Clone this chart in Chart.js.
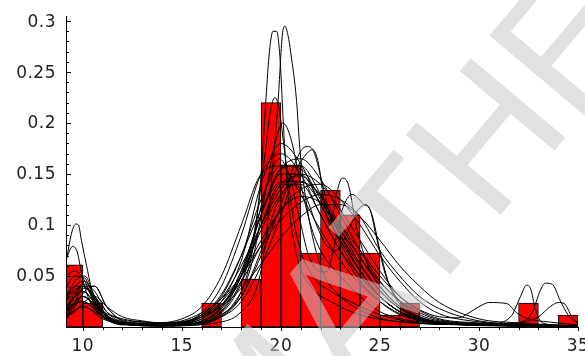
<!DOCTYPE html>
<html>
<head>
<meta charset="utf-8">
<script src="https://cdn.jsdelivr.net/npm/chart.js@4.4.1/dist/chart.umd.min.js"></script>
<style>
  html, body { margin: 0; padding: 0; background: #fff; overflow: hidden; }
  #wrap { width: 585px; height: 356px; }
</style>
</head>
<body>
<div id="wrap"><canvas id="dens" width="585" height="356"></canvas></div>
<script>
// histogram: left edge of each unit bin and its density
const binLefts = [9, 10, 11, 12, 13, 14, 15, 16, 17, 18, 19, 20, 21, 22, 23, 24, 25, 26, 27, 28, 29, 30, 31, 32, 33, 34];
const binDensity = [0.061, 0.0235, 0, 0, 0, 0, 0, 0.0235, 0, 0.047, 0.22, 0.159, 0.0725, 0.134, 0.11, 0.0725, 0.0118, 0.0235, 0, 0, 0, 0, 0, 0.0235, 0, 0.0118];

// axis ticks
const xLabels = [10, 15, 20, 25, 30, 35];
const yLabels = [0.05, 0.1, 0.15, 0.2, 0.25, 0.3];

// smooth density curves sampled on a common grid
const gridX = [9.15, 9.6, 10.1, 10.6, 11.2, 12, 13, 14, 15, 16, 17, 18, 19, 20, 21, 22, 23, 24, 25, 26, 27, 28, 30, 32, 35];
const dens1 = [0.03, 0.045, 0.05, 0.03, 0.01, 0.003, 0.002, 0.002, 0.003, 0.01, 0.03, 0.07, 0.125, 0.158, 0.155, 0.125, 0.09, 0.06, 0.035, 0.018, 0.009, 0.005, 0.003, 0.002, 0.001];
const dens2 = [0.015, 0.03, 0.042, 0.035, 0.015, 0.005, 0.003, 0.002, 0.004, 0.012, 0.028, 0.06, 0.1, 0.135, 0.15, 0.14, 0.115, 0.085, 0.055, 0.03, 0.016, 0.008, 0.004, 0.002, 0.001];
const dens3 = [0.04, 0.05, 0.048, 0.025, 0.008, 0.003, 0.002, 0.002, 0.004, 0.014, 0.04, 0.09, 0.15, 0.17, 0.15, 0.11, 0.075, 0.05, 0.03, 0.015, 0.008, 0.004, 0.002, 0.002, 0.001];
const dens4 = [0.01, 0.02, 0.035, 0.04, 0.02, 0.006, 0.004, 0.003, 0.004, 0.01, 0.022, 0.045, 0.08, 0.115, 0.135, 0.14, 0.125, 0.1, 0.07, 0.045, 0.025, 0.013, 0.005, 0.002, 0.001];
const dens5 = [0.025, 0.04, 0.045, 0.03, 0.012, 0.004, 0.002, 0.002, 0.003, 0.008, 0.025, 0.065, 0.14, 0.18, 0.16, 0.12, 0.085, 0.055, 0.03, 0.015, 0.007, 0.004, 0.002, 0.001, 0.001];
const dens6 = [0.05, 0.055, 0.045, 0.022, 0.008, 0.003, 0.003, 0.004, 0.008, 0.02, 0.05, 0.1, 0.15, 0.158, 0.13, 0.095, 0.065, 0.042, 0.025, 0.013, 0.007, 0.004, 0.002, 0.001, 0.001];
const dens7 = [0.02, 0.03, 0.038, 0.03, 0.015, 0.007, 0.005, 0.004, 0.006, 0.014, 0.028, 0.05, 0.08, 0.105, 0.122, 0.13, 0.125, 0.108, 0.075, 0.05, 0.03, 0.018, 0.006, 0.003, 0.001];
const dens8 = [0.012, 0.025, 0.04, 0.04, 0.02, 0.006, 0.002, 0.001, 0.002, 0.006, 0.02, 0.055, 0.11, 0.155, 0.165, 0.145, 0.11, 0.075, 0.045, 0.025, 0.012, 0.006, 0.003, 0.001, 0.001];
const dens9 = [0.03, 0.04, 0.04, 0.028, 0.012, 0.005, 0.003, 0.003, 0.005, 0.012, 0.032, 0.07, 0.115, 0.142, 0.143, 0.122, 0.095, 0.068, 0.044, 0.026, 0.014, 0.007, 0.003, 0.001, 0.001];
const dens10 = [0.01, 0.015, 0.025, 0.03, 0.02, 0.01, 0.006, 0.004, 0.005, 0.01, 0.02, 0.038, 0.062, 0.088, 0.108, 0.12, 0.12, 0.108, 0.085, 0.06, 0.04, 0.024, 0.008, 0.004, 0.001];

// curves with their own sample points [x, density]
const sharpA = [[9.15, 0.015], [10, 0.03], [11, 0.012], [12, 0.003], [14, 0.001], [16, 0.004], [17, 0.012], [18, 0.035], [18.6, 0.08], [19, 0.15], [19.25, 0.225], [19.42, 0.27], [19.6, 0.29], [19.78, 0.29], [19.95, 0.265], [20.15, 0.19], [20.4, 0.12], [20.8, 0.07], [21.5, 0.04], [22.5, 0.025], [24, 0.012], [26, 0.005], [30, 0.002], [35, 0.001]];
const sharpB = [[9.15, 0.02], [10, 0.025], [11, 0.01], [12, 0.003], [14, 0.001], [17, 0.005], [18, 0.015], [18.8, 0.04], [19.2, 0.08], [19.55, 0.15], [19.86, 0.222], [20.07, 0.286], [20.2, 0.295], [20.37, 0.285], [20.49, 0.27], [20.79, 0.222], [20.96, 0.174], [21.3, 0.12], [21.7, 0.08], [22.2, 0.05], [23, 0.03], [24.5, 0.012], [26, 0.005], [30, 0.002], [35, 0.001]];
const earlyC = [[9.15, 0.063], [9.43, 0.092], [9.65, 0.101], [9.78, 0.1], [9.93, 0.085], [10.2, 0.059], [10.5, 0.033], [10.86, 0.02], [11.5, 0.006], [12.5, 0.002], [14, 0.001], [16, 0.004], [17, 0.015], [18, 0.045], [19, 0.1], [20, 0.14], [21, 0.14], [22, 0.11], [23, 0.075], [24, 0.045], [25, 0.025], [26, 0.012], [28, 0.004], [32, 0.001], [35, 0.001]];
const earlyD = [[9.15, 0.066], [9.48, 0.079], [9.71, 0.074], [10, 0.046], [10.25, 0.03], [10.7, 0.015], [11.5, 0.005], [13, 0.002], [15, 0.002], [16, 0.006], [17, 0.02], [18, 0.055], [19, 0.11], [20, 0.15], [21, 0.15], [22, 0.12], [23, 0.085], [24, 0.055], [25, 0.03], [26, 0.015], [27, 0.007], [29, 0.003], [35, 0.001]];
const midE = [[9.15, 0.01], [10, 0.03], [11, 0.01], [12, 0.002], [15, 0.002], [16.5, 0.008], [17.5, 0.025], [18.3, 0.06], [18.8, 0.11], [19.2, 0.17], [19.5, 0.215], [19.7, 0.225], [19.9, 0.215], [20.2, 0.17], [20.6, 0.11], [21, 0.075], [21.6, 0.05], [22.5, 0.035], [23.5, 0.025], [25, 0.012], [27, 0.004], [30, 0.002], [35, 0.001]];
const midF = [[9.15, 0.02], [10, 0.04], [11, 0.015], [12, 0.004], [15, 0.002], [16.5, 0.006], [17.5, 0.02], [18.5, 0.06], [19.2, 0.13], [19.7, 0.18], [20.1, 0.2], [20.5, 0.185], [21, 0.14], [21.5, 0.1], [22, 0.075], [23, 0.05], [24, 0.03], [25, 0.015], [27, 0.005], [30, 0.002], [35, 0.001]];
const roughG = [[9.15, 0.01], [10, 0.02], [11, 0.01], [12, 0.004], [15, 0.003], [17, 0.012], [18, 0.03], [19, 0.07], [20, 0.12], [20.7, 0.16], [21.1, 0.175], [21.4, 0.177], [21.7, 0.17], [22.1, 0.14], [22.6, 0.1], [23.2, 0.075], [24, 0.05], [25, 0.03], [26, 0.015], [27.5, 0.006], [30, 0.002], [35, 0.001]];
const roughH = [[9.15, 0.015], [10, 0.025], [11, 0.01], [12, 0.003], [15, 0.002], [17, 0.01], [18, 0.025], [19, 0.06], [20, 0.11], [20.8, 0.155], [21.3, 0.17], [21.6, 0.174], [21.9, 0.16], [22.2, 0.12], [22.5, 0.1], [22.8, 0.13], [23.1, 0.146], [23.4, 0.14], [23.8, 0.1], [24.3, 0.065], [25, 0.04], [26, 0.02], [27.5, 0.007], [30, 0.002], [35, 0.001]];
const roughI = [[9.15, 0.02], [10, 0.035], [11, 0.012], [12, 0.003], [15, 0.002], [16.5, 0.008], [17.5, 0.03], [18.5, 0.08], [19.3, 0.14], [19.9, 0.165], [20.4, 0.15], [20.9, 0.11], [21.4, 0.07], [21.9, 0.055], [22.3, 0.054], [22.7, 0.08], [23.1, 0.115], [23.6, 0.13], [24.2, 0.12], [24.5, 0.115], [24.8, 0.09], [25.3, 0.05], [26, 0.025], [27, 0.01], [29, 0.003], [35, 0.001]];
const roughJ = [[9.15, 0.01], [10, 0.02], [11, 0.008], [12, 0.003], [15, 0.002], [17, 0.01], [18, 0.03], [19, 0.075], [19.8, 0.12], [20.5, 0.14], [21.2, 0.13], [21.8, 0.1], [22.3, 0.08], [22.8, 0.075], [23.3, 0.09], [23.9, 0.115], [24.3, 0.12], [24.6, 0.11], [25, 0.075], [25.5, 0.04], [26.2, 0.018], [27.5, 0.006], [30, 0.002], [35, 0.001]];
const tailK = [[9.15, 0.02], [10, 0.035], [11, 0.012], [12, 0.003], [15, 0.002], [16, 0.006], [17, 0.02], [18, 0.05], [19, 0.1], [20, 0.14], [21, 0.148], [22, 0.128], [23, 0.095], [24, 0.062], [25, 0.036], [26, 0.018], [27, 0.008], [28.5, 0.003], [30.5, 0.003], [31.6, 0.01], [32.1, 0.03], [32.4, 0.041], [32.6, 0.038], [32.85, 0.017], [33.2, 0.004], [34, 0.002], [35, 0.001]];
const tailL = [[9.15, 0.03], [10, 0.04], [11, 0.014], [12, 0.004], [15, 0.003], [16, 0.008], [17, 0.022], [18, 0.05], [19, 0.095], [20, 0.13], [21, 0.142], [22, 0.13], [23, 0.1], [24, 0.068], [25, 0.04], [26, 0.02], [27, 0.009], [28.5, 0.004], [31, 0.003], [32.3, 0.006], [32.7, 0.015], [33.1, 0.036], [33.35, 0.043], [33.7, 0.042], [34.1, 0.026], [34.5, 0.012], [35, 0.003]];
const tailM = [[9.15, 0.015], [10, 0.03], [11, 0.015], [12, 0.008], [13, 0.005], [15, 0.004], [16, 0.01], [17, 0.025], [18, 0.05], [19, 0.085], [20, 0.115], [21, 0.128], [22, 0.122], [23, 0.1], [24, 0.075], [25, 0.05], [26, 0.03], [27, 0.017], [28, 0.01], [29, 0.009], [29.5, 0.014], [30.1, 0.021], [30.5, 0.024], [31.4, 0.023], [31.9, 0.014], [32.5, 0.008], [33.5, 0.005], [35, 0.002]];
const tailN = [[9.15, 0.025], [10, 0.04], [11, 0.012], [12, 0.003], [15, 0.002], [16, 0.005], [17, 0.018], [18, 0.05], [19, 0.11], [20, 0.155], [21, 0.158], [22, 0.13], [23, 0.09], [24, 0.055], [25, 0.03], [26, 0.015], [27, 0.006], [29, 0.003], [32, 0.004], [33, 0.01], [33.6, 0.02], [34, 0.024], [34.3, 0.023], [34.7, 0.01], [35, 0.004]];

const gridCurves = [dens1, dens2, dens3, dens4, dens5, dens6, dens7, dens8, dens9, dens10];
const pointCurves = [sharpA, sharpB, earlyC, earlyD, midE, midF, roughG, roughH, roughI, roughJ, tailK, tailL, tailM, tailN];

function curveDataset(points) {
    return {
        type: 'line',
        data: points,
        borderColor: '#000',
        borderWidth: 1,
        pointRadius: 0,
        fill: false,
        cubicInterpolationMode: 'monotone',
        order: 0
    };
}

let datasets = [];
gridCurves.forEach(function (ys) {
    datasets.push(curveDataset(ys.map(function (y, i) { return { x: gridX[i], y: y }; })));
});
pointCurves.forEach(function (pts) {
    datasets.push(curveDataset(pts.map(function (p) { return { x: p[0], y: p[1] }; })));
});

// bars last so they sit under the curves
datasets.push({
    type: 'bar',
    data: binLefts.map(function (b, i) { return { x: b + 0.5, y: binDensity[i] }; }),
    backgroundColor: '#ff0000',
    borderColor: '#000',
    borderWidth: 1,
    borderSkipped: false,
    barPercentage: 1,
    categoryPercentage: 1,
    order: 1
});

// axes in the old notebook style: ticks inside on y, short ticks under x
const axisPlugin = {
    id: 'axisPlugin',
    afterDatasetsDraw: function (chart) {
        const ctx = chart.ctx;
        const xs = chart.scales.x, ys = chart.scales.y;
        const x0 = xs.getPixelForValue(xs.min), x1 = xs.getPixelForValue(xs.max);
        const y0 = ys.getPixelForValue(0), yTop = ys.getPixelForValue(ys.max);
        ctx.save();
        ctx.strokeStyle = '#000';
        ctx.lineWidth = 1;
        ctx.beginPath();
        ctx.moveTo(Math.round(x0) + 0.5, yTop);
        ctx.lineTo(Math.round(x0) + 0.5, y0);
        ctx.moveTo(x0, Math.round(y0) + 0.5);
        ctx.lineTo(x1, Math.round(y0) + 0.5);
        for (let v = 10; v <= 35; v++) {
            let px = Math.round(xs.getPixelForValue(v)) + 0.5;
            ctx.moveTo(px, Math.round(y0));
            ctx.lineTo(px, Math.round(y0) + (v % 5 === 0 ? 4 : 3));
        }
        for (let k = 1; k <= 30; k++) {
            let py = Math.round(ys.getPixelForValue(k / 100)) + 0.5;
            ctx.moveTo(Math.round(x0), py);
            ctx.lineTo(Math.round(x0) + (k % 5 === 0 ? 5 : 3), py);
        }
        ctx.stroke();

        ctx.fillStyle = '#222';
        ctx.font = '17px "DejaVu Sans"';
        ctx.letterSpacing = '0.5px';
        ctx.textAlign = 'center';
        ctx.textBaseline = 'top';
        xLabels.forEach(function (v) {
            ctx.fillText(String(v), xs.getPixelForValue(v), y0 + 11);
        });
        ctx.textAlign = 'right';
        ctx.textBaseline = 'middle';
        yLabels.forEach(function (v) {
            ctx.fillText(String(v), x0 - 10, ys.getPixelForValue(v) + 1);
        });
        ctx.restore();
    },
    afterDraw: function (chart) {
        // faint diagonal stamp across the plot
        const ctx = chart.ctx;
        ctx.save();
        ctx.fillStyle = 'rgba(200, 200, 200, 0.55)';
        ctx.font = '180px "Liberation Sans"';
        ctx.translate(352, 392);
        ctx.rotate(-50 * Math.PI / 180);
        ctx.textBaseline = 'alphabetic';
        ctx.fillText('MATHEMATICA', -ctx.measureText('M').width, 0);
        ctx.restore();
    }
};

new Chart(document.getElementById('dens').getContext('2d'), {
    type: 'scatter',
    data: { datasets: datasets },
    options: {
        responsive: false,
        animation: false,
        layout: { padding: { left: 66, right: 7, top: 16, bottom: 29 } },
        plugins: { legend: { display: false }, tooltip: { enabled: false } },
        scales: {
            x: { type: 'linear', min: 9.15, max: 35, offset: false, display: false },
            y: { type: 'linear', min: 0, max: 0.305, display: false }
        }
    },
    plugins: [axisPlugin]
});
</script>
</body>
</html>
